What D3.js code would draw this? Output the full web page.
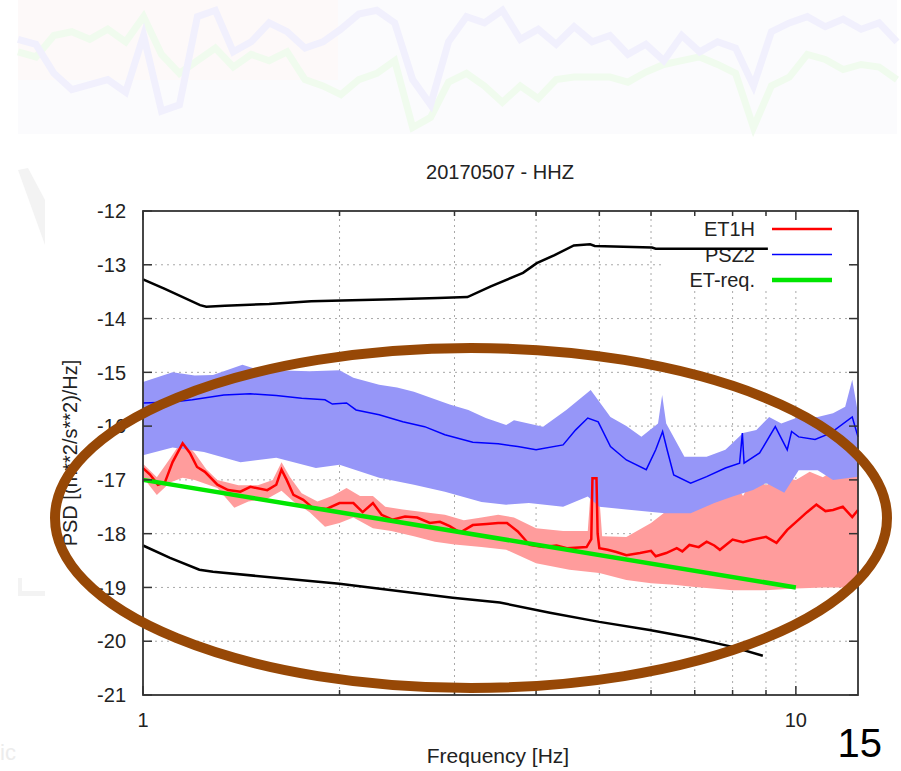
<!DOCTYPE html>
<html>
<head>
<meta charset="utf-8">
<script src="https://cdn.jsdelivr.net/npm/d3@7"></script>
<style>
  body { margin: 0; background: #fff; }
  text { font-family: "Liberation Sans", Arial, sans-serif; }
</style>
</head>
<body>
<svg id="chart" width="901" height="771"></svg>
<script>
// ---- data (frequency in Hz, log10 PSD) ----
var title = "20170507 - HHZ";
var yTicks = [-21, -20, -19, -18, -17, -16, -15, -14, -13, -12];
var xMajor = [1, 10];
var xMinor = [2, 3, 4, 5, 6, 7, 8, 9];
var legendNames = ["ET1H", "PSZ2", "ET-req."];

var et1hMedian = [[1,-16.78],[1.025,-16.9],[1.054,-17.09],[1.08,-17.05],[1.11,-16.67],[1.15,-16.32],[1.18,-16.5],
  [1.21,-16.76],[1.244,-16.85],[1.3,-17.09],[1.35,-17.19],[1.41,-17.22],[1.46,-17.13],[1.55,-17.19],[1.6,-17.09],
  [1.63,-16.81],[1.66,-17.0],[1.7,-17.28],[1.76,-17.37],[1.82,-17.52],[1.91,-17.54],[2.0,-17.43],[2.1,-17.43],
  [2.17,-17.6],[2.25,-17.43],[2.32,-17.65],[2.41,-17.74],[2.52,-17.68],[2.63,-17.7],[2.75,-17.8],[2.85,-17.78],
  [2.95,-17.86],[3.06,-17.98],[3.2,-17.84],[3.36,-17.82],[3.5,-17.8],[3.61,-17.8],[3.75,-17.96],[3.91,-18.21],
  [4.1,-18.25],[4.3,-18.22],[4.46,-18.27],[4.78,-18.25],[4.86,-18.1],[4.88,-16.97],[4.95,-16.97],[4.97,-18.0],
  [5.0,-18.27],[5.15,-18.3],[5.31,-18.34],[5.5,-18.4],[5.77,-18.36],[6.0,-18.32],[6.1,-18.42],[6.33,-18.36],
  [6.57,-18.27],[6.7,-18.33],[6.87,-18.21],[7.1,-18.25],[7.3,-18.15],[7.5,-18.22],[7.65,-18.3],[8.0,-18.11],
  [8.3,-18.16],[8.6,-18.11],[9.0,-18.06],[9.34,-18.17],[9.7,-17.93],[10.1,-17.74],[10.4,-17.6],[10.75,-17.46],
  [11.1,-17.58],[11.4,-17.56],[11.8,-17.5],[12.2,-17.69],[12.45,-17.56]];
var et1hUpper = [[1,-16.7],[1.05,-16.95],[1.1,-16.6],[1.15,-16.25],[1.2,-16.5],[1.25,-16.8],[1.3,-17.0],[1.4,-17.1],
  [1.5,-17.1],[1.58,-17.0],[1.63,-16.67],[1.68,-16.95],[1.75,-17.25],[1.85,-17.4],[1.95,-17.3],[2.05,-17.15],
  [2.15,-17.3],[2.25,-17.3],[2.35,-17.5],[2.5,-17.55],[2.7,-17.6],[2.9,-17.65],[3.1,-17.75],[3.3,-17.7],
  [3.5,-17.65],[3.7,-17.7],[4.0,-17.9],[4.4,-17.95],[4.8,-17.95],[4.87,-16.9],[4.97,-16.9],[5.05,-18.05],
  [5.5,-18.06],[6.0,-17.8],[6.3,-17.6],[6.5,-17.2],[6.6,-17.56],[7.0,-17.24],[7.2,-17.5],[7.4,-17.0],[7.5,-17.3],
  [8.0,-17.0],[8.3,-17.3],[8.6,-16.95],[9.0,-17.1],[9.5,-16.94],[10,-17.0],[10.5,-16.85],[11,-16.95],[11.5,-16.8],
  [12,-16.9],[12.45,-16.8]];
var et1hLower = [[1,-16.95],[1.05,-17.28],[1.1,-17.05],[1.15,-16.96],[1.2,-17.0],[1.3,-17.15],[1.38,-17.52],
  [1.45,-17.4],[1.55,-17.35],[1.63,-17.2],[1.7,-17.4],[1.8,-17.6],[1.9,-17.87],[2.0,-17.8],[2.1,-17.7],[2.25,-17.9],
  [2.4,-17.95],[2.6,-18.05],[2.8,-18.15],[3.0,-18.2],[3.3,-18.25],[3.6,-18.3],[4.0,-18.55],[4.5,-18.67],
  [5.0,-18.73],[5.5,-18.86],[6.0,-18.92],[6.5,-18.95],[7.0,-18.99],[8.0,-19.05],[9.0,-19.05],[10,-19.02],
  [11,-19.0],[12.45,-19.0]];

var psz2Median = [[1,-15.57],[1.11,-15.55],[1.19,-15.51],[1.33,-15.42],[1.46,-15.4],[1.6,-15.43],[1.75,-15.48],
  [1.9,-15.51],[1.95,-15.59],[2.05,-15.57],[2.12,-15.7],[2.3,-15.79],[2.5,-15.92],[2.7,-16.01],[2.9,-16.16],
  [3.2,-16.3],[3.5,-16.33],[3.75,-16.38],[4.0,-16.44],[4.4,-16.35],[4.6,-16.07],[4.8,-15.85],[4.98,-15.92],
  [5.2,-16.38],[5.5,-16.63],[5.9,-16.81],[6.1,-16.44],[6.25,-16.1],[6.35,-16.44],[6.5,-16.91],[6.9,-17.06],
  [7.3,-16.94],[7.8,-16.78],[8.2,-16.69],[8.28,-16.13],[8.33,-16.69],[8.8,-16.5],[9.3,-16.01],[9.7,-16.44],
  [9.85,-16.1],[10.1,-16.2],[10.7,-16.25],[11.3,-16.13],[12.2,-15.83],[12.45,-16.2]];
var psz2Upper = [[1,-15.18],[1.11,-15.0],[1.2,-15.06],[1.28,-15.05],[1.42,-14.86],[1.5,-14.95],[1.6,-14.96],
  [1.8,-14.98],[2.0,-14.96],[2.1,-15.1],[2.3,-15.23],[2.45,-15.28],[2.6,-15.36],[2.8,-15.5],[2.95,-15.6],
  [3.15,-15.7],[3.35,-15.85],[3.6,-15.98],[3.7,-15.89],[4.1,-16.01],[4.45,-15.7],[4.85,-15.33],[5.2,-15.83],
  [5.5,-16.0],[5.8,-16.2],[6.15,-15.95],[6.24,-15.42],[6.33,-15.95],[6.75,-16.57],[7.3,-16.57],[7.8,-16.44],
  [8.3,-16.13],[8.7,-16.07],[9.1,-15.83],[9.5,-15.95],[10.1,-15.83],[10.8,-15.83],[11.4,-15.76],[11.9,-15.64],
  [12.2,-15.14],[12.45,-15.76]];
var psz2Lower = [[1,-16.54],[1.11,-16.4],[1.24,-16.48],[1.41,-16.67],[1.6,-16.59],[1.84,-16.78],[2.0,-16.72],
  [2.3,-16.96],[2.6,-17.09],[2.9,-17.22],[3.3,-17.41],[3.6,-17.46],[3.9,-17.43],[4.4,-17.5],[4.8,-17.31],
  [5.0,-17.5],[5.6,-17.56],[6.3,-17.62],[6.9,-17.62],[7.5,-17.43],[8.0,-17.31],[8.6,-17.19],[9.0,-17.06],
  [9.6,-17.24],[10.1,-16.82],[10.8,-16.82],[11.4,-17.0],[12.45,-16.94]];

var highNoise = [[1,-13.27],[1.08,-13.45],[1.223,-13.75],[1.25,-13.78],[1.335,-13.76],[1.56,-13.73],[1.81,-13.68],
  [2.09,-13.66],[2.42,-13.64],[2.83,-13.62],[3.14,-13.6],[3.41,-13.4],[3.82,-13.15],[4.01,-12.97],[4.27,-12.82],
  [4.57,-12.64],[4.84,-12.62],[4.92,-12.65],[6.02,-12.68],[6.1,-12.7],[9.06,-12.7]];
var lowNoise = [[1,-18.22],[1.1,-18.45],[1.22,-18.67],[1.28,-18.71],[2.0,-18.93],[2.98,-19.19],[3.52,-19.28],
  [4.2,-19.47],[5.0,-19.64],[5.97,-19.79],[6.95,-19.94],[7.97,-20.1],[8.9,-20.27]];
var etReq = [[1,-17.0],[10,-19.0]];

// faded slide banner behind the title (0..1 units)
var bannerBlue = [0.72,0.68,0.45,0.32,0.36,0.40,0.30,0.75,0.15,0.20,0.90,0.95,0.62,0.70,0.85,0.78,0.65,0.70,0.80,
  0.92,0.95,0.85,0.40,0.20,0.70,0.90,0.85,0.95,0.72,0.80,0.68,0.82,0.70,0.75,0.60,0.68,0.55,0.75,0.62,0.70,0.65,
  0.35,0.78,0.85,0.90,0.82,0.88,0.80,0.85,0.70];
var bannerGreen = [0.62,0.58,0.75,0.78,0.72,0.80,0.70,0.90,0.60,0.45,0.55,0.65,0.50,0.60,0.55,0.62,0.40,0.35,0.28,
  0.40,0.45,0.55,0.02,0.10,0.38,0.45,0.35,0.22,0.35,0.25,0.40,0.42,0.42,0.42,0.38,0.46,0.52,0.55,0.58,0.52,0.45,
  0.02,0.35,0.42,0.60,0.56,0.48,0.52,0.50,0.40];

// ---- layout ----
var svg = d3.select("#chart");
var x = d3.scaleLog().domain([1, 12.45]).range([143, 858]);
var y = d3.scaleLinear().domain([-21, -12]).range([695, 211]);

// banner
var bx = d3.scaleLinear().domain([0, bannerBlue.length - 1]).range([18, 897]);
var by = d3.scaleLinear().domain([0, 1]).range([130, 4]);
svg.append("rect").attr("x", 18).attr("y", 0).attr("width", 879).attr("height", 134).attr("fill", "#fbfbfd");
svg.append("rect").attr("x", 18).attr("y", 0).attr("width", 320).attr("height", 80).attr("fill", "#fdf9f9");
var bline = d3.line().x(function(d, i) { return bx(i); }).y(function(d) { return by(d); });
svg.append("path").attr("d", bline(bannerGreen)).attr("fill", "none")
  .attr("stroke", "#f0fbee").attr("stroke-width", 7);
svg.append("path").attr("d", bline(bannerBlue)).attr("fill", "none")
  .attr("stroke", "#f1f0fd").attr("stroke-width", 7);

// faint leftovers from the slide at the left edge
svg.append("path").attr("d", "M18,170 L28,168 L45,200 L45,245 Z").attr("fill", "#f3f3f3");
svg.append("path").attr("d", "M18,578 L22,578 L22,591 L45,591 L45,596 L18,596 Z").attr("fill", "#f3f3f3");
svg.append("text").attr("x", 0).attr("y", 760).attr("font-size", 22).attr("fill", "#ececec").text("ic");

// grid
var grid = svg.append("g").attr("stroke", "#a8a8a8").attr("stroke-width", 1).attr("stroke-dasharray", "2,4");
yTicks.filter(function(t) { return t > -21 && t < -12; }).forEach(function(t) {
  grid.append("line").attr("x1", x.range()[0]).attr("x2", x.range()[1]).attr("y1", y(t)).attr("y2", y(t));
});
xMinor.concat([10]).forEach(function(t) {
  grid.append("line").attr("x1", x(t)).attr("x2", x(t)).attr("y1", y(-21)).attr("y2", y(-12));
});

// opaque legend box
svg.append("rect").attr("x", 663).attr("y", 214).attr("width", 184).attr("height", 76).attr("fill", "#fff");

var line = d3.line().x(function(d) { return x(d[0]); }).y(function(d) { return y(d[1]); });
function band(up, low) {
  return line(up.concat(low.slice().reverse())) + "Z";
}

svg.append("path").attr("d", band(et1hUpper, et1hLower)).attr("fill", "#ff9c9c");
svg.append("path").attr("d", band(psz2Upper, psz2Lower)).attr("fill", "#9696f8");

// legend
var legendColors = ["#ff0000", "#0000ff", "#00e600"];
var legendWidths = [2.5, 1.5, 4.5];
legendNames.forEach(function(name, i) {
  var ly = 229 + i * 25.5;
  svg.append("text").attr("x", 755).attr("y", ly).attr("dy", "0.36em").attr("text-anchor", "end")
    .attr("font-size", 20).attr("fill", "#222").text(name);
  svg.append("line").attr("x1", 772).attr("x2", 832).attr("y1", ly).attr("y2", ly)
    .attr("stroke", legendColors[i]).attr("stroke-width", legendWidths[i]);
});

svg.append("path").attr("d", line(highNoise)).attr("fill", "none").attr("stroke", "#000").attr("stroke-width", 2.5);
svg.append("path").attr("d", line(lowNoise)).attr("fill", "none").attr("stroke", "#000").attr("stroke-width", 2.5);
svg.append("path").attr("d", line(psz2Median)).attr("fill", "none").attr("stroke", "#0000ff").attr("stroke-width", 1.5);
svg.append("path").attr("d", line(et1hMedian)).attr("fill", "none").attr("stroke", "#ff0000").attr("stroke-width", 2.5);
svg.append("path").attr("d", line(etReq)).attr("fill", "none").attr("stroke", "#00e600").attr("stroke-width", 4.5);

// frame and ticks
svg.append("rect").attr("x", 143).attr("y", 211).attr("width", 715).attr("height", 484)
  .attr("fill", "none").attr("stroke", "#333").attr("stroke-width", 1.8);
var ticks = svg.append("g").attr("stroke", "#333").attr("stroke-width", 1.5);
yTicks.forEach(function(t) {
  ticks.append("line").attr("x1", 143).attr("x2", 152).attr("y1", y(t)).attr("y2", y(t));
  ticks.append("line").attr("x1", 849).attr("x2", 858).attr("y1", y(t)).attr("y2", y(t));
});
xMajor.concat(xMinor).forEach(function(t) {
  var len = xMajor.indexOf(t) >= 0 ? 9 : 5;
  ticks.append("line").attr("x1", x(t)).attr("x2", x(t)).attr("y1", 695).attr("y2", 695 - len);
  ticks.append("line").attr("x1", x(t)).attr("x2", x(t)).attr("y1", 211).attr("y2", 211 + len);
});

// tick labels
yTicks.forEach(function(t) {
  svg.append("text").attr("x", 126).attr("y", y(t)).attr("dy", "0.36em").attr("text-anchor", "end")
    .attr("font-size", 20).attr("fill", "#222").text(t);
});
xMajor.forEach(function(t) {
  svg.append("text").attr("x", x(t)).attr("y", 727).attr("text-anchor", "middle")
    .attr("font-size", 20).attr("fill", "#222").text(t);
});

// titles
svg.append("text").attr("x", 500).attr("y", 179).attr("text-anchor", "middle")
  .attr("font-size", 20).attr("fill", "#222").text(title);
svg.append("text").attr("x", 498).attr("y", 763).attr("text-anchor", "middle")
  .attr("font-size", 21).attr("fill", "#222").text("Frequency [Hz]");
svg.append("text").attr("transform", "translate(70,453) rotate(-90)").attr("dy", "0.36em")
  .attr("text-anchor", "middle").attr("font-size", 20).attr("fill", "#222").text("PSD [(m**2/s**2)/Hz]");

// brown highlight ellipse drawn on the slide
svg.append("ellipse").attr("cx", 471).attr("cy", 518).attr("rx", 416).attr("ry", 170)
  .attr("fill", "none").attr("stroke", "#974806").attr("stroke-width", 10);

// slide number
svg.append("text").attr("x", 882).attr("y", 757).attr("text-anchor", "end")
  .attr("font-size", 40).attr("fill", "#000").text("15");
</script>
</body>
</html>
